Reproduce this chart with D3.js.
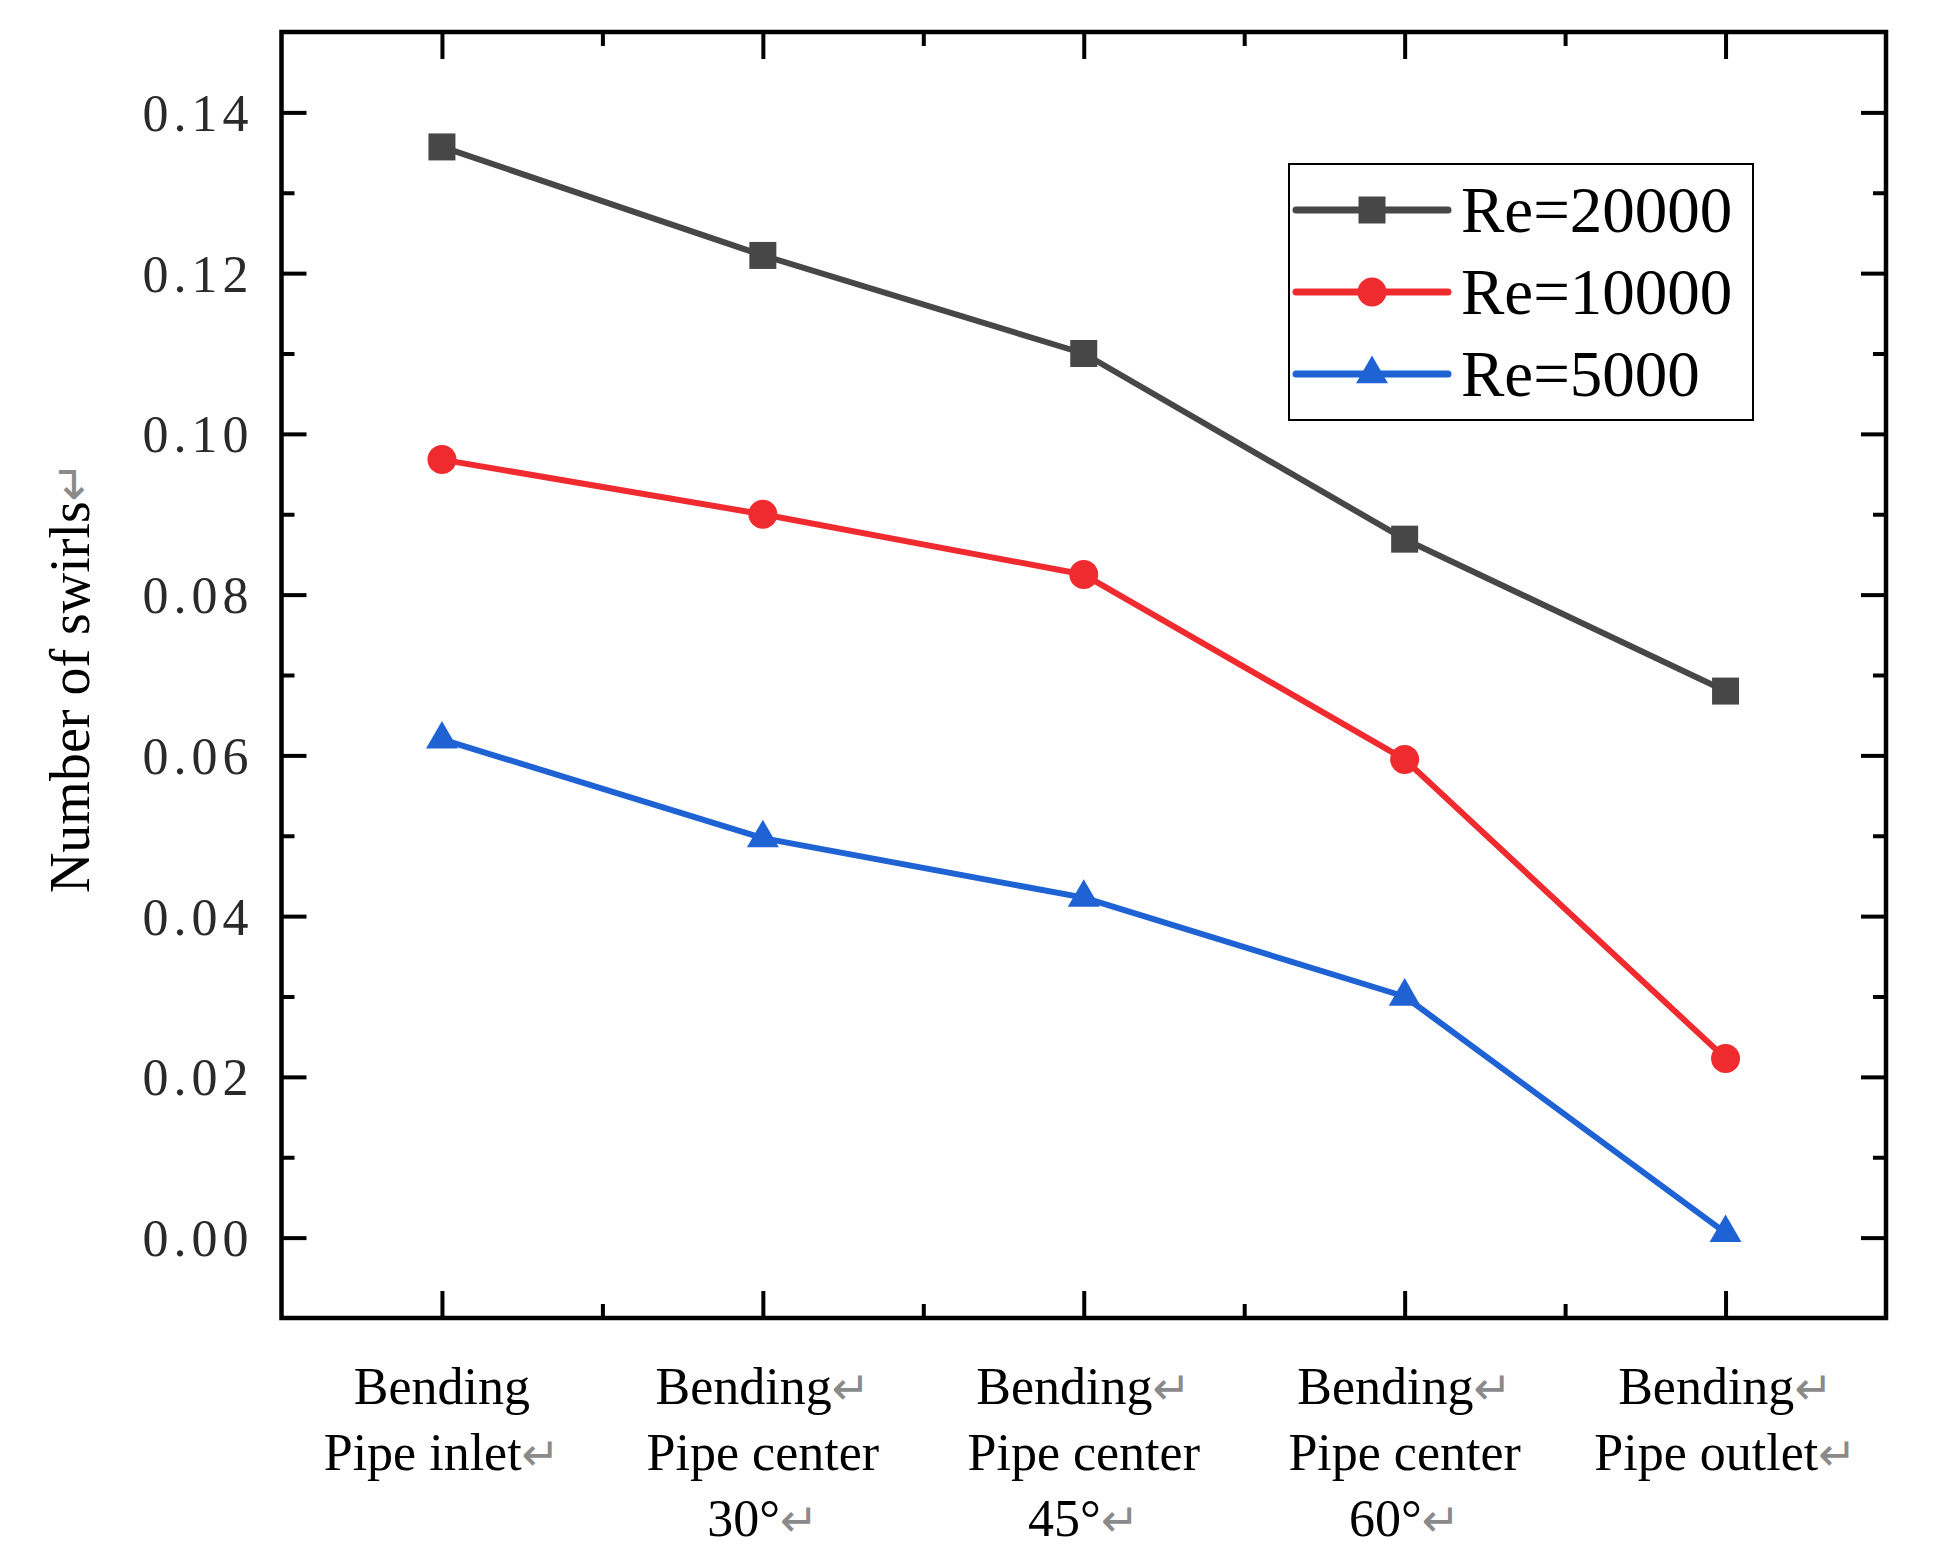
<!DOCTYPE html>
<html>
<head>
<meta charset="utf-8">
<script src="https://cdn.jsdelivr.net/npm/d3@7"></script>
<style>
  html, body { margin: 0; padding: 0; background: #fff; }
  svg { display: block; }
</style>
</head>
<body>
<svg id="chart" width="1935" height="1568"></svg>
<script>
// ---- data ----
const categories = [
  ["Bending", "Pipe inlet↵"],
  ["Bending↵", "Pipe center", "30°↵"],
  ["Bending↵", "Pipe center", "45°↵"],
  ["Bending↵", "Pipe center", "60°↵"],
  ["Bending↵", "Pipe outlet↵"]
];
const seriesNames = ["Re=20000", "Re=10000", "Re=5000"];
const re20000 = [0.1357, 0.1222, 0.1100, 0.0869, 0.0680];
const re10000 = [0.0968, 0.0900, 0.0825, 0.0595, 0.0223];
const re5000  = [0.0620, 0.0497, 0.0423, 0.0300, 0.0006];
const yTicks = [0.00, 0.02, 0.04, 0.06, 0.08, 0.10, 0.12, 0.14];
const yMinorTicks = [0.01, 0.03, 0.05, 0.07, 0.09, 0.11, 0.13];
const xTicks = [1, 2, 3, 4, 5];
const xMinorTicks = [1.5, 2.5, 3.5, 4.5];
const yTitle = "Number of swirls↵";

const colors = ["#474747", "#ef2b30", "#1f62d4"];
const symbols = [d3.symbolSquare, d3.symbolCircle, d3.symbolTriangle];
const symbolSizes = [729, 660, 440];
const seriesData = [re20000, re10000, re5000];

// ---- layout ----
const L = 281.5, R = 1886, T = 32, B = 1318;
const svg = d3.select("#chart");
const x = d3.scaleLinear().domain([0.5, 5.5]).range([L, R]);
const y = d3.scaleLinear().domain([-0.01, 0.15]).range([B, T]);
const serif = "'Liberation Serif', 'Times New Roman', serif";

function styleAxis(g) {
  g.select(".domain").remove();
  g.selectAll(".tick line").attr("stroke", "#000").attr("stroke-width", 4);
}

// axes: major + minor ticks, all inward
svg.append("g").attr("transform", `translate(${L},0)`)
  .call(d3.axisLeft(y).tickValues(yTicks).tickSize(-25).tickPadding(28)
    .tickFormat(d3.format(".2f")))
  .call(styleAxis)
  .call(g => g.selectAll(".tick text")
    .attr("font-family", serif).attr("font-size", 52).attr("fill", "#2a2a2a")
    .attr("letter-spacing", "5px").attr("dy", null).attr("y", 18));
svg.append("g").attr("transform", `translate(${L},0)`)
  .call(d3.axisLeft(y).tickValues(yMinorTicks).tickSize(-13).tickFormat(""))
  .call(styleAxis);
svg.append("g").attr("transform", `translate(${R},0)`)
  .call(d3.axisRight(y).tickValues(yTicks).tickSize(-25).tickFormat(""))
  .call(styleAxis);
svg.append("g").attr("transform", `translate(${R},0)`)
  .call(d3.axisRight(y).tickValues(yMinorTicks).tickSize(-13).tickFormat(""))
  .call(styleAxis);
svg.append("g").attr("transform", `translate(0,${B})`)
  .call(d3.axisBottom(x).tickValues(xTicks).tickSize(-27).tickFormat(""))
  .call(styleAxis);
svg.append("g").attr("transform", `translate(0,${B})`)
  .call(d3.axisBottom(x).tickValues(xMinorTicks).tickSize(-14).tickFormat(""))
  .call(styleAxis);
svg.append("g").attr("transform", `translate(0,${T})`)
  .call(d3.axisTop(x).tickValues(xTicks).tickSize(-27).tickFormat(""))
  .call(styleAxis);
svg.append("g").attr("transform", `translate(0,${T})`)
  .call(d3.axisTop(x).tickValues(xMinorTicks).tickSize(-14).tickFormat(""))
  .call(styleAxis);

// frame
svg.append("rect")
  .attr("x", L).attr("y", T).attr("width", R - L).attr("height", B - T)
  .attr("fill", "none").attr("stroke", "#000").attr("stroke-width", 4.5);

// helper: text with grey return-arrow tspans
function addRichText(sel, str, arrowSize) {
  const parts = str.split("↵");
  parts.forEach((p, i) => {
    if (p.length) sel.append("tspan").text(p);
    if (i < parts.length - 1) {
      sel.append("tspan").text("↵").attr("fill", "#8a8a8a")
        .attr("font-family", "'DejaVu Sans', sans-serif")
        .attr("font-size", arrowSize);
    }
  });
}

// x category labels
const lineBase = [1404, 1470, 1536];
categories.forEach((lines, i) => {
  lines.forEach((ln, j) => {
    const t = svg.append("text")
      .attr("x", x(xTicks[i])).attr("y", lineBase[j])
      .attr("text-anchor", "middle")
      .attr("font-family", serif).attr("font-size", 52).attr("fill", "#000");
    addRichText(t, ln, 46);
  });
});

// y title
const yt = svg.append("text")
  .attr("transform", `translate(89,677) rotate(-90)`)
  .attr("text-anchor", "middle")
  .attr("font-family", serif).attr("font-size", 56).attr("fill", "#000");
addRichText(yt, yTitle, 48);

// series lines and markers
const line = d3.line().x((d, i) => x(xTicks[i])).y(d => y(d));
seriesData.forEach((vals, s) => {
  svg.append("path").datum(vals)
    .attr("d", line).attr("fill", "none")
    .attr("stroke", colors[s]).attr("stroke-width", 6)
    .attr("stroke-linejoin", "round");
  svg.append("g").selectAll("path").data(vals).join("path")
    .attr("transform", (d, i) => `translate(${x(xTicks[i])},${y(d)})`)
    .attr("d", d3.symbol(symbols[s], symbolSizes[s]))
    .attr("fill", colors[s]);
});

// legend
const lg = svg.append("g");
lg.append("rect").attr("x", 1289).attr("y", 164).attr("width", 464).attr("height", 256)
  .attr("fill", "#fff").attr("stroke", "#000").attr("stroke-width", 2);
const legY = [210, 292, 374];
seriesNames.forEach((name, s) => {
  lg.append("line").attr("x1", 1296).attr("x2", 1448)
    .attr("y1", legY[s]).attr("y2", legY[s])
    .attr("stroke", colors[s]).attr("stroke-width", 7).attr("stroke-linecap", "round");
  lg.append("path").attr("transform", `translate(1372,${legY[s]})`)
    .attr("d", d3.symbol(symbols[s], symbolSizes[s]))
    .attr("fill", colors[s]);
  lg.append("text").attr("x", 1461).attr("y", legY[s] + 22)
    .attr("font-family", serif).attr("font-size", 65).attr("fill", "#000")
    .text(name);
});
</script>
</body>
</html>
